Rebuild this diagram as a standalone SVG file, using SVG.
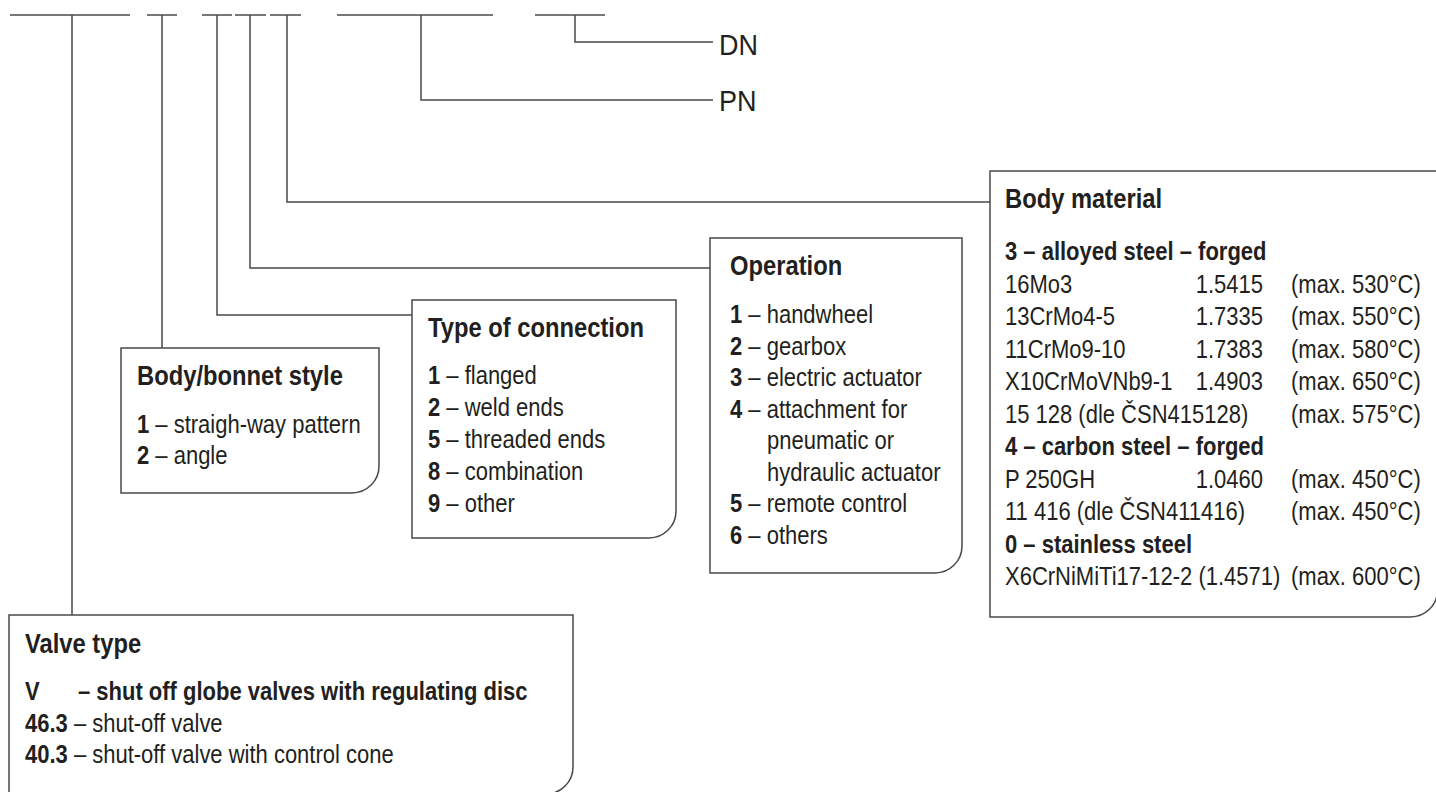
<svg xmlns="http://www.w3.org/2000/svg" width="1436" height="792" viewBox="0 0 1436 792">
<style>
.ln{fill:none;stroke:#4a4a4a;stroke-width:1.5}
.box{fill:#fff;stroke:#4a4a4a;stroke-width:1.5}
.t{font-family:"Liberation Sans",Arial,sans-serif;font-size:25px;fill:#231f20}
.h{font-weight:bold;font-size:27px}
.b{font-weight:bold}
.r{text-anchor:end}
.lbl{font-size:30px}
</style>
<rect width="1436" height="792" fill="#fff"/>
<g id="connectors" class="ln">
<path d="M10 15H130M72 15V615"/>
<path d="M147 15H177M162 15V348"/>
<path d="M202 15H232M217 15V315H412"/>
<path d="M235 15H266M250 15V268H710"/>
<path d="M270 15H301M287 15V202H990"/>
<path d="M337 15H493M421 15V100H713"/>
<path d="M535 15H605M575 15V42H713"/>
</g>
<g id="node-dn"><text class="t lbl" transform="translate(719 55) scale(.9 1)">DN</text></g>
<g id="node-pn"><text class="t lbl" transform="translate(719 111) scale(.9 1)">PN</text></g>
<g id="node-body-bonnet">
<path class="box" d="M121 348H379V466A27 27 0 0 1 352 493H121Z"/>
<text class="t h" transform="translate(137 385) scale(.88 1)">Body/bonnet style</text>
<text class="t" transform="translate(137 433) scale(.88 1)"><tspan class="b">1</tspan> – straigh-way pattern</text>
<text class="t" transform="translate(137 464) scale(.88 1)"><tspan class="b">2</tspan> – angle</text>
</g>
<g id="node-connection">
<path class="box" d="M412 300H676V511A27 27 0 0 1 649 538H412Z"/>
<text class="t h" transform="translate(428 337) scale(.88 1)">Type of connection</text>
<text class="t" transform="translate(428 384) scale(.88 1)"><tspan class="b">1</tspan> – flanged</text>
<text class="t" transform="translate(428 416) scale(.88 1)"><tspan class="b">2</tspan> – weld ends</text>
<text class="t" transform="translate(428 448) scale(.88 1)"><tspan class="b">5</tspan> – threaded ends</text>
<text class="t" transform="translate(428 480) scale(.88 1)"><tspan class="b">8</tspan> – combination</text>
<text class="t" transform="translate(428 512) scale(.88 1)"><tspan class="b">9</tspan> – other</text>
</g>
<g id="node-operation">
<path class="box" d="M710 238H962V546A27 27 0 0 1 935 573H710Z"/>
<text class="t h" transform="translate(730 275) scale(.88 1)">Operation</text>
<text class="t" transform="translate(730 323) scale(.88 1)"><tspan class="b">1</tspan> – handwheel</text>
<text class="t" transform="translate(730 354.5) scale(.88 1)"><tspan class="b">2</tspan> – gearbox</text>
<text class="t" transform="translate(730 386) scale(.88 1)"><tspan class="b">3</tspan> – electric actuator</text>
<text class="t" transform="translate(730 417.5) scale(.88 1)"><tspan class="b">4</tspan> – attachment for</text>
<text class="t" transform="translate(767 449) scale(.88 1)">pneumatic or</text>
<text class="t" transform="translate(767 480.5) scale(.88 1)">hydraulic actuator</text>
<text class="t" transform="translate(730 512) scale(.88 1)"><tspan class="b">5</tspan> – remote control</text>
<text class="t" transform="translate(730 543.5) scale(.88 1)"><tspan class="b">6</tspan> – others</text>
</g>
<g id="node-body-material">
<path class="box" d="M990 171H1437.5V590A27 27 0 0 1 1410.5 617H990Z"/>
<text class="t h" transform="translate(1005 208) scale(.88 1)">Body material</text>
<text class="t b" transform="translate(1005 260) scale(.88 1)">3 – alloyed steel – forged</text>
<text class="t" transform="translate(1005 292.5) scale(.88 1)">16Mo3</text>
<text class="t r" transform="translate(1263 292.5) scale(.88 1)">1.5415</text>
<text class="t" transform="translate(1291 292.5) scale(.88 1)">(max. 530°C)</text>
<text class="t" transform="translate(1005 325) scale(.88 1)">13CrMo4-5</text>
<text class="t r" transform="translate(1263 325) scale(.88 1)">1.7335</text>
<text class="t" transform="translate(1291 325) scale(.88 1)">(max. 550°C)</text>
<text class="t" transform="translate(1005 357.5) scale(.88 1)">11CrMo9-10</text>
<text class="t r" transform="translate(1263 357.5) scale(.88 1)">1.7383</text>
<text class="t" transform="translate(1291 357.5) scale(.88 1)">(max. 580°C)</text>
<text class="t" transform="translate(1005 390) scale(.88 1)">X10CrMoVNb9-1</text>
<text class="t r" transform="translate(1263 390) scale(.88 1)">1.4903</text>
<text class="t" transform="translate(1291 390) scale(.88 1)">(max. 650°C)</text>
<text class="t" transform="translate(1005 422.5) scale(.88 1)">15 128 (dle ČSN415128)</text>
<text class="t" transform="translate(1291 422.5) scale(.88 1)">(max. 575°C)</text>
<text class="t b" transform="translate(1005 455) scale(.88 1)">4 – carbon steel – forged</text>
<text class="t" transform="translate(1005 487.5) scale(.88 1)">P 250GH</text>
<text class="t r" transform="translate(1263 487.5) scale(.88 1)">1.0460</text>
<text class="t" transform="translate(1291 487.5) scale(.88 1)">(max. 450°C)</text>
<text class="t" transform="translate(1005 520) scale(.88 1)">11 416 (dle ČSN411416)</text>
<text class="t" transform="translate(1291 520) scale(.88 1)">(max. 450°C)</text>
<text class="t b" transform="translate(1005 552.5) scale(.88 1)">0 – stainless steel</text>
<text class="t" transform="translate(1005 585) scale(.88 1)">X6CrNiMiTi17-12-2 (1.4571)</text>
<text class="t" transform="translate(1291 585) scale(.88 1)">(max. 600°C)</text>
</g>
<g id="node-valve-type">
<path class="box" d="M9 615H573V767A27 27 0 0 1 546 794H9Z"/>
<text class="t h" transform="translate(25 653) scale(.88 1)">Valve type</text>
<text class="t b" transform="translate(25 700) scale(.88 1)">V</text>
<text class="t b" transform="translate(78 700) scale(.88 1)">– shut off globe valves with regulating disc</text>
<text class="t" transform="translate(25 731.5) scale(.88 1)"><tspan class="b">46.3</tspan> – shut-off valve</text>
<text class="t" transform="translate(25 763) scale(.88 1)"><tspan class="b">40.3</tspan> – shut-off valve with control cone</text>
</g>
</svg>
